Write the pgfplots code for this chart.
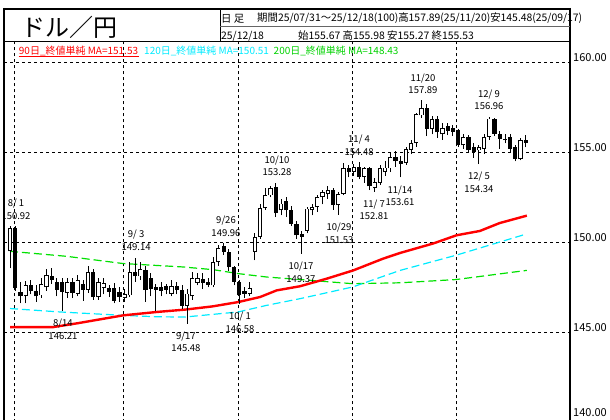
\documentclass[border=0pt]{standalone}
\usepackage{fontspec}
\setmainfont{Noto Sans CJK JP}
\usepackage{pgfplots}
\pgfplotsset{compat=1.18}
\usepackage{pgfplotstable}

\definecolor{maRed}{RGB}{255,0,0}
\definecolor{maCyan}{RGB}{0,235,255}
\definecolor{maGreen}{RGB}{0,225,0}
\definecolor{legGreen}{RGB}{0,210,0}

\pgfplotstableread{
i O H L C
0 149.50 150.90 148.55 150.78
1 150.78 150.92 147.30 147.45
2 147.25 147.80 146.60 147.00
3 147.00 147.85 146.60 147.60
4 147.60 147.90 147.10 147.30
5 147.30 147.60 146.70 147.00
6 147.05 148.00 146.90 147.70
7 147.50 148.50 147.30 148.20
8 148.10 148.55 147.70 147.90
9 147.80 148.00 147.00 147.35
10 147.80 148.00 146.21 147.25
11 147.20 148.00 146.90 147.80
12 147.80 148.00 146.90 147.20
13 147.15 148.20 147.00 147.90
14 147.70 147.90 146.75 147.35
15 147.35 148.70 147.20 148.35
16 148.35 148.50 146.80 146.95
17 146.95 148.00 146.80 147.80
18 147.45 148.00 147.10 147.75
19 147.45 147.60 146.95 147.25
20 147.45 147.75 146.60 146.75
21 147.25 147.50 146.70 146.95
22 146.90 147.40 146.70 147.10
23 147.05 148.90 146.95 148.35
24 148.35 149.14 147.80 148.10
25 148.10 148.90 147.90 148.50
26 148.45 148.70 146.70 147.35
27 148.00 148.30 147.00 147.40
28 147.50 147.70 146.20 147.35
29 147.50 147.80 147.00 147.30
30 147.55 147.70 147.10 147.35
31 147.15 147.90 147.00 147.55
32 147.55 147.80 147.10 147.35
33 147.35 147.60 146.30 146.45
34 146.45 147.40 145.48 147.15
35 147.00 148.35 146.80 148.00
36 147.75 148.30 147.60 148.00
37 147.95 148.30 147.40 147.75
38 147.80 148.00 147.50 147.65
39 147.60 149.20 147.50 148.90
40 148.90 149.85 148.70 149.70
41 149.80 149.96 149.30 149.45
42 149.45 149.60 148.40 148.60
43 148.60 148.70 147.60 147.80
44 147.80 147.90 146.58 147.05
45 147.30 147.50 146.90 147.15
46 147.15 147.80 147.00 147.45
47 149.45 150.50 149.00 150.30
48 150.30 152.10 150.20 151.90
49 151.90 153.00 151.80 152.60
50 152.60 153.15 152.50 153.00
51 153.07 153.28 151.40 151.60
52 151.78 152.40 151.50 152.15
53 152.30 152.50 151.40 151.78
54 151.78 152.00 150.90 151.04
55 151.04 151.20 150.20 150.39
56 150.48 150.60 149.37 150.30
57 150.65 151.95 150.50 151.87
58 151.78 152.10 151.50 151.96
59 151.96 152.60 151.70 152.50
60 152.50 152.90 152.10 152.80
61 152.70 153.10 152.40 152.90
62 152.90 153.00 151.80 152.06
63 152.06 152.80 151.53 152.70
64 152.70 154.40 152.60 154.10
65 154.10 154.30 153.60 153.90
66 153.90 154.35 153.70 154.20
67 154.20 154.48 153.50 153.65
68 153.65 154.20 153.30 154.10
69 154.10 154.20 152.90 153.10
70 153.00 153.55 152.81 153.35
71 153.30 154.30 153.20 154.10
72 153.90 154.50 153.70 154.15
73 154.10 155.00 153.90 154.75
74 154.75 155.05 154.20 154.50
75 154.50 154.80 153.61 154.35
76 154.40 155.30 154.30 155.20
77 155.15 155.70 154.90 155.50
78 155.50 157.20 155.30 157.10
79 157.05 157.89 156.90 157.45
80 157.45 157.70 155.90 156.30
81 156.30 157.00 156.00 156.85
82 156.85 157.00 155.80 156.10
83 156.00 156.60 155.70 156.35
84 156.45 156.60 155.95 156.20
85 156.35 156.50 155.90 156.15
86 156.22 156.30 155.30 155.39
87 155.39 156.00 155.20 155.85
88 155.85 155.95 155.00 155.11
89 155.30 155.50 154.70 155.02
90 155.11 155.40 154.34 155.30
91 155.20 156.00 154.90 155.85
92 155.85 156.96 155.70 156.87
93 156.87 156.90 155.90 156.04
94 156.04 156.20 155.20 155.76
95 155.67 156.00 155.50 155.76
96 155.85 156.00 155.00 155.20
97 155.30 155.40 154.50 154.65
98 154.65 155.80 154.55 155.67
99 155.67 155.98 155.27 155.53
}\ohlc

\pgfplotstableread{
i v
0 145.29
8.3 145.29
12.9 145.50
21.7 145.94
28.2 146.13
33.6 146.26
38.9 146.44
43.8 146.68
48.0 146.96
51.2 147.33
55.7 147.56
60.8 147.98
65.9 148.44
71.6 149.09
74.9 149.41
81.2 149.93
85.7 150.39
90.2 150.63
94.0 151.07
99.2 151.48
}\mared

\pgfplotstableread{
i v
0 146.32
9.6 146.13
21.7 145.94
28.5 145.86
33.6 145.85
43.8 146.13
49.3 146.50
55.7 146.87
65.8 147.52
74.9 148.44
85.6 149.28
99.0 150.45
}\macyan

\pgfplotstableread{
i v
0 149.50
10.9 149.22
21.7 148.82
33.2 148.63
39.0 148.48
43.8 148.26
49.3 148.07
55.7 147.93
65.8 147.70
74.9 147.75
85.6 147.93
99.2 148.44
}\magreen

\newcommand{\lbl}{\fontsize{9.5}{12.5}\selectfont}

\begin{document}
\begin{tikzpicture}
\path[use as bounding box] (0,0) rectangle (610pt,420pt);
\begin{axis}[
  anchor=south west, at={(4pt,-2.3pt)},
  scale only axis, width=566pt, height=379.8pt,
  xmin=-1.152, xmax=107.49, ymin=140, ymax=161.1,
  axis line style={draw=none},
  major tick length=0pt,
  xtick={0.75,21.75,43.75,65.75,85.75}, xticklabels={},
  ytick={140,145,150,155,160},
  yticklabels={{},145.00,150.00,155.00,160.00},
  yticklabel pos=right,
  yticklabel style={anchor=west, inner sep=0pt, xshift=3pt, yshift=5pt, font=\fontsize{11}{11}\selectfont},
  grid=major,
  grid style={black, line width=0.8pt, dash pattern=on 3pt off 3pt},
]
% moving averages
\addplot[maGreen, line width=1.2pt, dash pattern=on 8pt off 4pt, mark=none] table[x=i, y=v] {\magreen};
\addplot[maCyan, line width=1.2pt, dash pattern=on 8pt off 4pt, mark=none] table[x=i, y=v] {\macyan};
\addplot[maRed, line width=2.4pt, mark=none] table[x=i, y=v] {\mared};
% wicks
\addplot[draw=none, mark=none, error bars/.cd, y dir=plus, y explicit, error mark=none,
  error bar style={black, line width=0.8pt}]
  table[x=i, y=L, y error plus expr=\thisrow{H}-\thisrow{L}] {\ohlc};
% bodies
\addplot[draw=none, mark=none, error bars/.cd, y dir=plus, y explicit, error mark=none,
  error bar style={black, line width=4.2pt}]
  table[x=i, y expr={min(\thisrow{O},\thisrow{C})}, y error plus expr={max(abs(\thisrow{C}-\thisrow{O}),0.06)}] {\ohlc};
% white interiors of rising candles
\addplot[draw=none, mark=none, error bars/.cd, y dir=plus, y explicit, error mark=none,
  error bar style={white, line width=2.6pt}]
  table[x=i, y expr={min(\thisrow{O},\thisrow{C})+0.045}, y error plus expr={(\thisrow{C}>\thisrow{O}) ? max(\thisrow{C}-\thisrow{O}-0.09,0) : 0}] {\ohlc};

% annotations
\node[font=\lbl, align=center, inner sep=0pt] at (axis cs:1.15,151.83) {8/ 1\\150.92};
\node[font=\lbl, align=center, inner sep=0pt] at (axis cs:10.17,145.17) {8/14\\146.21};
\node[font=\lbl, align=center, inner sep=0pt] at (axis cs:24.2,150.11) {9/ 3\\149.14};
\node[font=\lbl, align=center, inner sep=0pt] at (axis cs:33.78,144.47) {9/17\\145.48};
\node[font=\lbl, align=center, inner sep=0pt] at (axis cs:41.46,150.89) {9/26\\149.96};
\node[font=\lbl, align=center, inner sep=0pt] at (axis cs:44.15,145.56) {10/ 1\\146.58};
\node[font=\lbl, align=center, inner sep=0pt] at (axis cs:51.25,154.25) {10/10\\153.28};
\node[font=\lbl, align=center, inner sep=0pt] at (axis cs:55.85,148.33) {10/17\\149.37};
\node[font=\lbl, align=center, inner sep=0pt] at (axis cs:63.15,150.50) {10/29\\151.53};
\node[font=\lbl, align=center, inner sep=0pt] at (axis cs:67.0,155.39) {11/ 4\\154.48};
\node[font=\lbl, align=center, inner sep=0pt] at (axis cs:69.87,151.81) {11/ 7\\152.81};
\node[font=\lbl, align=center, inner sep=0pt] at (axis cs:74.86,152.58) {11/14\\153.61};
\node[font=\lbl, align=center, inner sep=0pt] at (axis cs:79.27,158.81) {11/20\\157.89};
\node[font=\lbl, align=center, inner sep=0pt] at (axis cs:91.94,157.92) {12/ 9\\156.96};
\node[font=\lbl, align=center, inner sep=0pt] at (axis cs:90.02,153.33) {12/ 5\\154.34};
\end{axis}

\begin{scope}[shift={(0pt,420pt)}, x=1pt, y=-1pt]
  % frame
  \draw[line width=2pt] (4,8) -- (4,425);
  \draw[line width=2pt] (570,8) -- (570,425);
  \draw[line width=2pt] (3,9) -- (571,9);
  \draw[line width=1pt] (4,42) -- (570,42);
  \draw[line width=1pt] (220,9) -- (220,42);
  \draw[line width=1pt, black!60] (220,26.5) -- (570,26.5);
  % lowest price label
  \node[anchor=west, inner sep=0pt, font=\fontsize{11}{11}\selectfont] at (573,412.5) {140.00};
  % header texts
  \node[anchor=west, inner sep=0pt, font=\fontsize{24}{24}\selectfont] at (21,27) {ドル／円};
  \node[anchor=west, inner sep=0pt, font=\fontsize{10.4}{12}\selectfont] at (221,18.5) {日 足};
  \node[anchor=west, inner sep=0pt, font=\fontsize{10.4}{12}\selectfont] at (257,18.5) {期間25/07/31～25/12/18(100)高157.89(25/11/20)安145.48(25/09/17)};
  \node[anchor=west, inner sep=0pt, font=\fontsize{10.4}{12}\selectfont] at (221,36) {25/12/18};
  \node[anchor=west, inner sep=0pt, font=\fontsize{10.4}{12}\selectfont] at (298,36) {始155.67 高155.98 安155.27 終155.53};
  % legend
  \node[anchor=west, inner sep=0pt, font=\fontsize{10}{12}\selectfont, text=maRed] at (18.7,50.6) {90日\_終値単純 MA=151.53};
  \draw[maRed, line width=0.8pt] (18.7,56) -- (139,56);
  \node[anchor=west, inner sep=0pt, font=\fontsize{10}{12}\selectfont, text=maCyan] at (144,50.6) {120日\_終値単純 MA=150.51};
  \node[anchor=west, inner sep=0pt, font=\fontsize{10}{12}\selectfont, text=legGreen] at (273.5,50.6) {200日\_終値単純 MA=148.43};
\end{scope}
\end{tikzpicture}
\end{document}
